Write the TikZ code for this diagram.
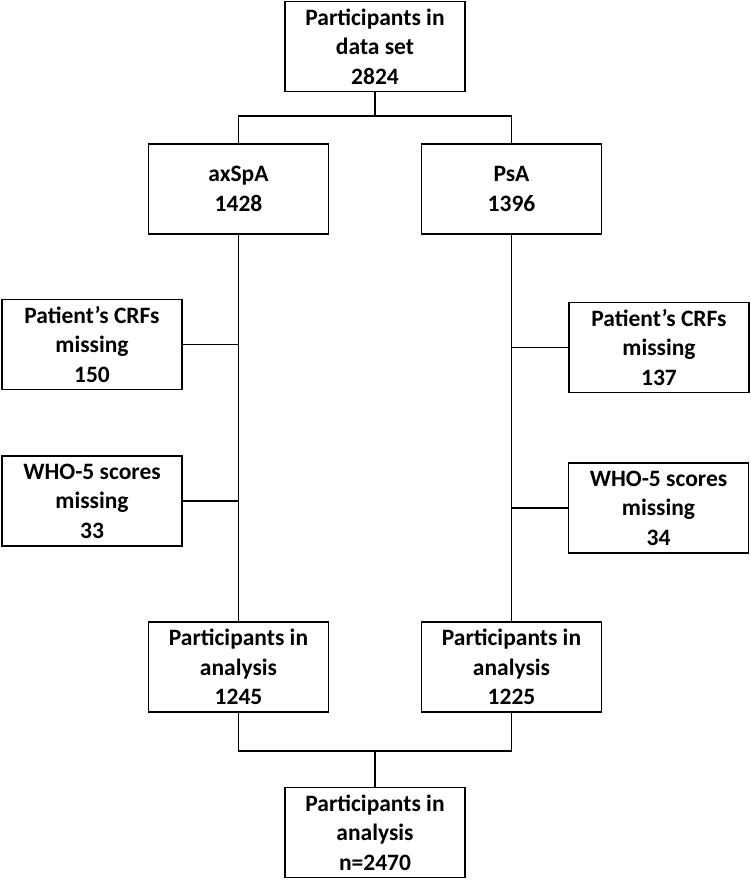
\documentclass[tikz,border=0pt]{standalone}
\usepackage{fontspec}
\setmainfont{Carlito}
\usetikzlibrary{positioning}

\begin{document}
\begin{tikzpicture}[
    x = 1pt, y = -1pt,
    caja/.style = {
        draw,
        line width   = 1.6pt,
        align        = center,
        inner sep    = 0pt,
        minimum width  = 180pt,
        minimum height = 90pt,
        font         = \fontsize{23.5}{29.5}\selectfont\bfseries
    },
    linea/.style = {
        line width = 1.6pt
    }
]

% ================================================================
%  MARCO (750 x 880, y hacia abajo)
% ================================================================

\useasboundingbox (0,0) rectangle (750,880);

% ================================================================
%  CAJAS
% ================================================================

\node[caja] (total)  at (375, 46.5)   {Participants in\\data set\\2824};

\node[caja] (axspa)  at (238.5, 189)  {axSpA\\1428};
\node[caja] (psa)    at (511.5, 189)  {PsA\\1396};

\node[caja] (crfax)  at (92, 344.5)   {Patient’s CRFs\\missing\\150};
\node[caja] (crfpsa) at (659, 347.5)  {Patient’s CRFs\\missing\\137};

\node[caja] (whoax)  at (92, 501)     {WHO-5 scores\\missing\\33};
\node[caja] (whopsa) at (658.5, 508)  {WHO-5 scores\\missing\\34};

\node[caja] (anax)   at (238.5, 667)  {Participants in\\analysis\\1245};
\node[caja] (anpsa)  at (511.5, 667)  {Participants in\\analysis\\1225};

\node[caja] (final)  at (375, 832.5)  {Participants in\\analysis\\n=2470};

% ================================================================
%  CONECTORES
% ================================================================

% reparto superior
\draw[linea] (total.south) -- ++(0,25);
\draw[linea] (axspa.north) -- ++(0,-27) -| (psa.north);

% ramas verticales
\draw[linea] (axspa.south) -- (anax.north);
\draw[linea] (psa.south)   -- (anpsa.north);

% exclusiones
\draw[linea] (crfax.east)  -- (crfax.east -| axspa.south);
\draw[linea] (whoax.east)  -- (whoax.east -| axspa.south);
\draw[linea] (crfpsa.west) -- (crfpsa.west -| psa.south);
\draw[linea] (whopsa.west) -- (whopsa.west -| psa.south);

% union inferior
\draw[linea] (anax.south) -- ++(0,38) -| (anpsa.south);
\draw[linea] (final.north) -- ++(0,-37);

\end{tikzpicture}
\end{document}
